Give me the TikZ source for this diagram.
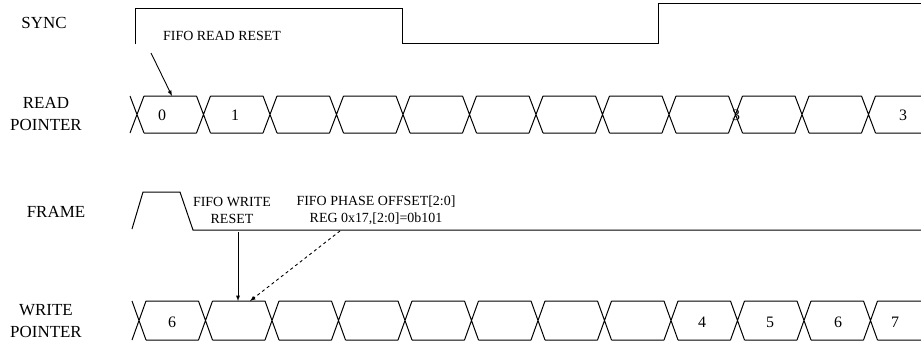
\documentclass[tikz,border=0pt]{standalone}
\usepackage{fontspec}
\setmainfont{Liberation Serif}
\usepackage{tikz}
\usetikzlibrary{arrows, positioning}
\tikzstyle{siglabel} = [font=\fontsize{17}{22}\selectfont, align=center, inner sep=0pt]
\tikzstyle{note} = [font=\fontsize{14}{17}\selectfont, align=center, inner sep=0pt]
\tikzstyle{val} = [font=\fontsize{16}{18}\selectfont, inner sep=0pt]
\tikzstyle{wave} = [line width=1pt]
\tikzstyle{arrow} = [line width=0.9pt,->,>=latex]

\begin{document}
\begin{tikzpicture}[x=1bp,y=-1bp]
  \useasboundingbox (0,0) rectangle (921,344);
  % signal names
  \node (sync) [siglabel] at (44,23) {SYNC};
  \node (rdname) [siglabel] at (46,114) {READ\\POINTER};
  \node (frame) [siglabel] at (56,212) {FRAME};
  \node (wrname) [siglabel] at (46,321) {WRITE\\POINTER};

  % sync and frame
  \draw[wave] (135,44) -- (135,8) -- (402,8) -- (402,43) -- (658,43) -- (658,3) -- (921,3);
  \draw[wave] (132,229) -- (143,192) -- (180,192) -- (193,230) -- (921,230);

  % pointer buses
  \foreach \yt/\yb/\xs in {96/133/137, 301/340/139} {
    \foreach \k in {0,...,11} {
      \pgfmathsetmacro\xc{\xs+66.5*\k}
      \pgfmathsetmacro\xn{\k<11 ? \xc+59.5 : 921}
      \draw[wave] (\xc-7,\yt) -- (\xc+7,\yb) (\xc-7,\yb) -- (\xc+7,\yt)
        (\xc+7,\yt) -- (\xn,\yt) (\xc+7,\yb) -- (\xn,\yb);
    }
  }

  % pointer values
  \node (rd0) [val] at (162,115) {0};
  \node (rd1) [val] at (235,115) {1};
  \node (rd3a) [val] at (736,115) {3};
  \node (rd3b) [val] at (903,115) {3};
  \node (wr6a) [val] at (172,322) {6};
  \node (wr4) [val] at (702,322) {4};
  \node (wr5) [val] at (770,322) {5};
  \node (wr6b) [val] at (838,322) {6};
  \node (wr7) [val] at (895,322) {7};

  % notes
  \node (rdreset) [note] at (222,36) {FIFO READ RESET};
  \node (wrreset) [note] at (232,210) {FIFO WRITE\\RESET};
  \node (phase) [note] at (376,210) {FIFO PHASE OFFSET[2:0]\\REG 0x17,[2:0]=0b101};

  \coordinate (rdfrom) at (151,53);
  \coordinate (rdto) at (172,96);
  \coordinate (wrfrom) at (238,232);
  \coordinate (wrto) at (238,301);
  \coordinate (phfrom) at (340,231);
  \coordinate (phto) at (250,301);
  \draw[arrow] (rdfrom) -- (rdto);
  \draw[arrow] (wrfrom) -- (wrto);
  \draw[arrow, dashed] (phfrom) -- (phto);
\end{tikzpicture}
\end{document}
